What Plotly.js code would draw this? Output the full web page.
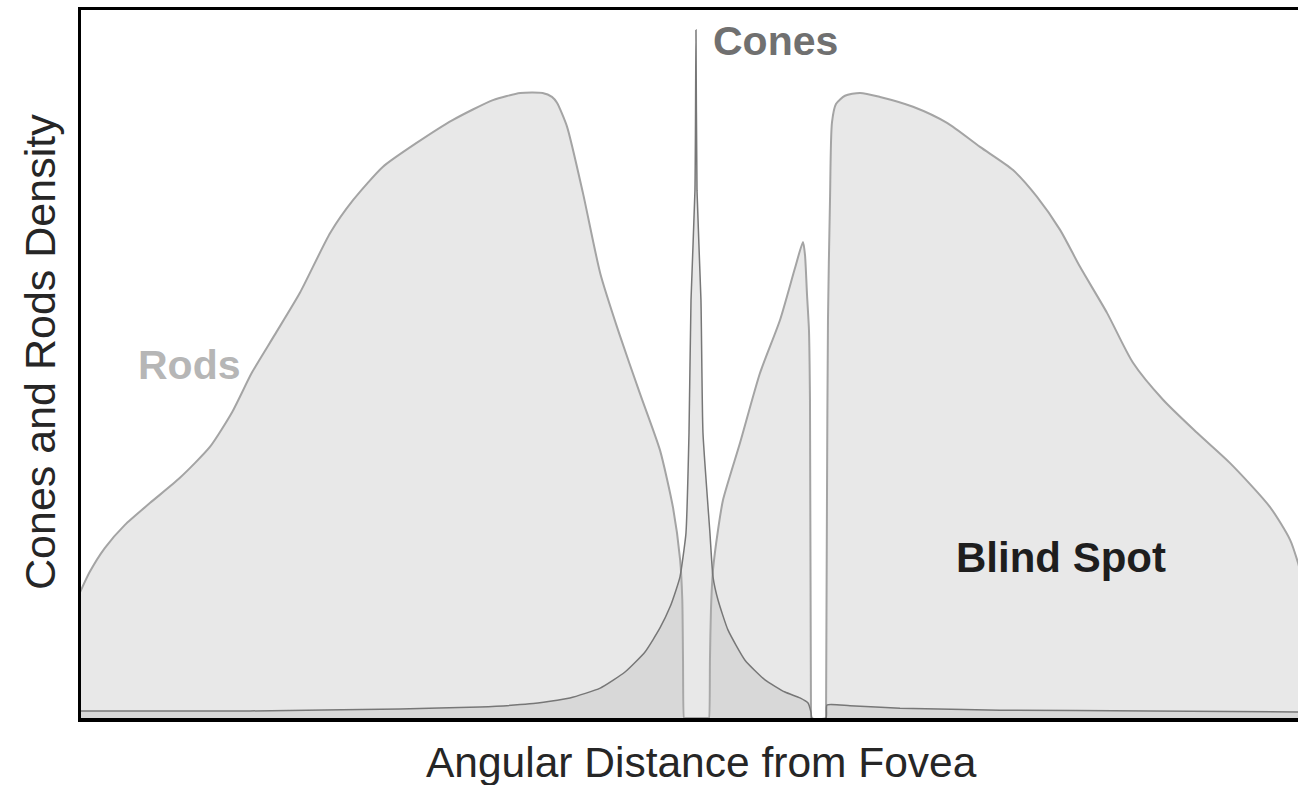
<!DOCTYPE html>
<html>
<head>
<meta charset="utf-8">
<script src="https://cdn.plot.ly/plotly-3.0.1.min.js"></script>
<style>
  html, body { margin: 0; padding: 0; background: #fff; }
  #chart { width: 1298px; height: 785px; }
</style>
</head>
<body>
<div id="chart"></div>
<script>
// angular distance from fovea (deg) and density (thousand per mm2)

// rods, temporal side through the fovea up to the blind spot
var rodsDeg = [-85.7, -84.2, -82.1, -79.3, -75.8, -71.7, -67.5, -64.4, -61.7, -58.5, -55.0, -50.8,
    -47.6, -43.5, -38.8, -33.8, -28.2, -24.4, -21.3, -20.0, -19.3, -17.9, -15.7, -13.3, -10.6,
    -7.8, -5.0, -3.2, -2.2, -1.9, -1.8, -1.67, -1.6,
    1.74, 1.81, 1.94, 2.08, 2.36, 3.06, 3.75, 6.11, 8.89, 11.67, 13.75, 14.86, 15.14, 15.42, 15.69, 15.83, 15.97];
var rodsDensity = [31.3, 37.1, 43.2, 49.1, 54.7, 61.0, 68.9, 77.8, 87.7, 97.4, 108.1, 123.3,
    131.7, 140.1, 146.2, 152.0, 157.1, 158.9, 158.9, 157.9, 156.4, 150.3, 133.5, 113.1, 97.4,
    82.6, 68.1, 53.6, 40.2, 30.0, 14.7, 0, 0,
    0, 0, 14.7, 27.5, 37.6, 47.8, 55.4, 69.9, 87.7, 101.2, 114.4, 121.0, 117.7, 107.6, 98.6, 80.8, 0];

// rods, nasal side after the blind spot
var rodsNasalDeg = [18.06, 18.19, 18.33, 18.61, 18.89, 19.44, 20.69, 22.78, 25.56, 30.14, 34.86,
    39.44, 44.03, 47.36, 50.56, 53.33, 57.08, 60.69, 64.86, 69.58, 74.17, 79.72, 82.5, 83.61, 84.58];
var rodsNasalDensity = [0, 55.4, 101.2, 131.7, 151.5, 156.1, 158.2, 158.9, 157.9, 155.4, 151.3,
    145.2, 139.3, 132.5, 124.1, 114.7, 103.0, 90.3, 80.9, 72.5, 64.8, 53.6, 45.3, 39.4, 32.5];

// cones
var conesDeg = [-85.7, -61.9, -41.1, -30.0, -23.1, -17.5, -13.3, -9.86, -7.08, -5.0, -3.61, -2.78,
    -2.22, -1.67, -1.39, -0.97, -0.69, -0.14, 0, 0.14, 0.69, 0.97, 1.94, 2.36, 3.06, 4.44, 6.81,
    9.58, 12.36, 14.44, 15.56, 15.97, 16.11, 18.06, 18.19, 21.39, 28.33, 42.22, 63.06, 84.58];
var conesDensity = [1.8, 1.8, 2.3, 2.8, 3.6, 5.1, 7.6, 11.7, 16.8, 22.9, 28.2, 32.5,
    35.9, 42.7, 47.0, 72.5, 106.3, 134.2, 174.9, 134.2, 106.3, 72.5, 47.0, 35.9, 30.0, 22.4, 14.7,
    9.7, 6.6, 5.1, 3.8, 1.5, 0, 0, 3.3, 3.1, 2.5, 2.0, 1.8, 1.5];

var labelFont = 'Liberation Sans, Arial, sans-serif';

var rods = {
    x: rodsDeg,
    y: rodsDensity,
    type: 'scatter',
    mode: 'lines',
    fill: 'tozeroy',
    fillcolor: '#e8e8e8',
    line: {color: '#a4a4a4', width: 2, shape: 'spline', smoothing: 0.6},
    name: 'Rods'
};

var rodsNasal = {
    x: rodsNasalDeg,
    y: rodsNasalDensity,
    type: 'scatter',
    mode: 'lines',
    fill: 'tozeroy',
    fillcolor: '#e8e8e8',
    line: {color: '#a4a4a4', width: 2, shape: 'spline', smoothing: 0.7},
    name: 'Rods'
};

var cones = {
    x: conesDeg,
    y: conesDensity,
    type: 'scatter',
    mode: 'lines',
    fill: 'tozeroy',
    fillcolor: 'rgba(179, 179, 179, 0.3)',
    line: {color: '#777777', width: 1.5, shape: 'spline', smoothing: 0.5},
    name: 'Cones'
};

var data = [rods, rodsNasal, cones];

var layout = {
    width: 1298,
    height: 785,
    margin: {l: 81, r: 0, t: 10, b: 67},
    paper_bgcolor: '#ffffff',
    plot_bgcolor: '#ffffff',
    showlegend: false,
    hovermode: false,
    font: {family: labelFont},
    xaxis: {
        range: [-85.4, 83.6],
        showline: true,
        mirror: true,
        linecolor: '#000000',
        linewidth: 3.5,
        showgrid: false,
        zeroline: false,
        showticklabels: false,
        ticks: ''
    },
    yaxis: {
        range: [0, 180],
        showline: true,
        linecolor: '#000000',
        linewidth: 3,
        showgrid: false,
        zeroline: false,
        showticklabels: false,
        ticks: ''
    },
    annotations: [
        {text: 'Cones', x: 11.1, y: 172.1, xref: 'x', yref: 'y', showarrow: false,
            font: {size: 41, color: '#707070', family: labelFont, weight: 'bold'}},
        {text: 'Rods', x: -70.3, y: 89.8, xref: 'x', yref: 'y', showarrow: false,
            font: {size: 41, color: '#b6b6b6', family: labelFont, weight: 'bold'}},
        {text: 'Blind Spot', x: 50.7, y: 40.7, xref: 'x', yref: 'y', showarrow: false,
            font: {size: 42, color: '#1e1e1e', family: labelFont, weight: 'bold'}},
        {text: 'Angular Distance from Fovea', x: 701, y: 762, showarrow: false,
            font: {size: 42.5, color: '#262626', family: labelFont}},
        {text: 'Cones and Rods Density', x: 40, y: 352, textangle: -90, showarrow: false,
            font: {size: 43, color: '#262626', family: labelFont}}
    ]
};

// the two axis titles are placed in pixels, converted to paper fractions here
var plotW = layout.width - layout.margin.l - layout.margin.r;
var plotH = layout.height - layout.margin.t - layout.margin.b;
layout.annotations.slice(3).forEach(function (a) {
    a.x = (a.x - layout.margin.l) / plotW;
    a.y = (layout.height - layout.margin.b - a.y) / plotH;
    a.xref = 'paper';
    a.yref = 'paper';
    a.xanchor = 'center';
    a.yanchor = 'middle';
});

Plotly.newPlot('chart', data, layout, {displayModeBar: false, staticPlot: true});
</script>
</body>
</html>
